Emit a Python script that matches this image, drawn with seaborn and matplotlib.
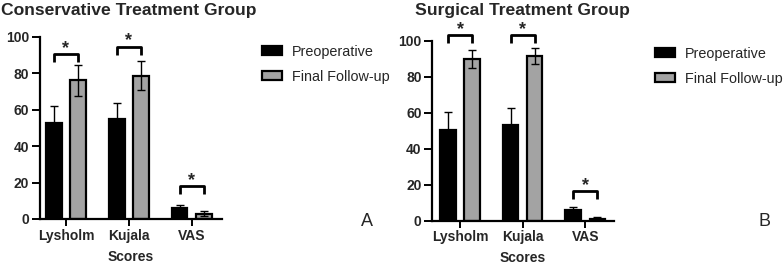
import matplotlib
matplotlib.use("Agg")
import matplotlib.pyplot as plt
import seaborn as sns
import pandas as pd
from matplotlib.patches import Patch

categories = ["Lysholm", "Kujala", "VAS"]
groups = ["Preoperative", "Final Follow-up"]

cons_pre = [52.6, 55.0, 6.1]
cons_pre_sd = [9.2, 8.5, 1.6]
cons_post = [76.0, 78.6, 2.8]
cons_post_sd = [8.5, 7.9, 1.4]
cons_bracket = [90.4, 94.5, 18.0]

surg_pre = [50.2, 53.0, 6.1]
surg_pre_sd = [10.2, 9.6, 1.3]
surg_post = [89.8, 91.4, 0.6]
surg_post_sd = [5.0, 4.3, 1.3]
surg_bracket = [103.0, 103.0, 16.4]

titles = ["Conservative Treatment Group", "Surgical Treatment Group"]
panel_letters = ["A", "B"]
yticks = [0, 20, 40, 60, 80, 100]

colors = ["#000000", "#a3a3a3"]

sns.set_theme(style="ticks")
plt.rcParams["font.family"] = ["Liberation Sans", "DejaVu Sans"]

fig = plt.figure(figsize=(7.84, 2.66), dpi=100)
W, H = 784, 266

def px_axes(x0, y_top, x1, y_bot):
    return fig.add_axes([x0 / W, (H - y_bot) / H, (x1 - x0) / W, (y_bot - y_top) / H])

axA = px_axes(39.5, 36.5, 222, 219)
axB = px_axes(432, 40.5, 614, 220.5)

panels = [
    (axA, cons_pre, cons_pre_sd, cons_post, cons_post_sd, cons_bracket, (-0.42, 2.48)),
    (axB, surg_pre, surg_pre_sd, surg_post, surg_post_sd, surg_bracket, (-0.45, 2.46)),
]

for i, (ax, pre, pre_sd, post, post_sd, br, xl) in enumerate(panels):
    df = pd.DataFrame({
        "Scores": categories * 2,
        "value": pre + post,
        "time": [groups[0]] * 3 + [groups[1]] * 3,
    })
    sns.barplot(data=df, x="Scores", y="value", hue="time", palette=colors,
                errorbar=None, width=0.77, gap=0.36, edgecolor="black",
                linewidth=1.6, ax=ax, legend=False, saturation=1)
    patches = list(ax.patches)[:6]
    centers = [p.get_x() + p.get_width() / 2 for p in patches]
    tops = [p.get_height() for p in patches]
    sds = pre_sd + post_sd
    ax.errorbar(centers, tops, yerr=[[min(s, t) for s, t in zip(sds, tops)], sds],
                fmt="none", ecolor="black", elinewidth=1.0, capsize=3, capthick=1.0)
    for k in range(3):
        xa, xb = centers[k], centers[k + 3]
        y = br[k]
        dy = 4.5
        ax.plot([xa, xa, xb, xb], [y - dy, y, y, y - dy], color="black",
                lw=2.0, clip_on=False, solid_capstyle="butt")
        ax.annotate("*", xy=((xa + xb) / 2, y), xytext=(0, -2), textcoords="offset points",
                    ha="center", va="bottom", fontsize=13, fontweight="bold",
                    annotation_clip=False)
    ax.set_xlim(*xl)
    ax.set_ylim(0, 100)
    ax.set_yticks(yticks)
    ax.set_ylabel("")
    ax.set_xlabel("Scores", fontsize=10, fontweight="bold", labelpad=5)
    for lab in ax.get_xticklabels():
        lab.set_fontweight("bold"); lab.set_fontsize(10)
    for lab in ax.get_yticklabels():
        lab.set_fontweight("bold"); lab.set_fontsize(10)
    sns.despine(ax=ax)
    for sp in ["left", "bottom"]:
        ax.spines[sp].set_linewidth(1.6)
        ax.spines[sp].set_color("black")
    ax.tick_params(axis="x", width=1.4, length=5, color="black", pad=2)
    ax.tick_params(axis="y", width=1.4, length=6, color="black", pad=1.5)

fig.text(1 / W, 1 - 10 / H, titles[0], fontsize=12.6, fontweight="bold", va="center", ha="left")
fig.text(522 / W, 1 - 10 / H, titles[1], fontsize=12.6, fontweight="bold", va="center", ha="center")

handles = [Patch(facecolor=colors[0], edgecolor="black", linewidth=1.6),
           Patch(facecolor=colors[1], edgecolor="black", linewidth=1.6)]
for (x, y) in [(262, 45), (655, 47)]:
    fig.legend(handles, groups, loc="upper left", bbox_to_anchor=(x / W, 1 - y / H),
               frameon=False, fontsize=10.4, handlelength=1.4, handleheight=0.6,
               handletextpad=0.7, labelspacing=0.75, borderaxespad=0, borderpad=0)

fig.text(367 / W, 1 - 222 / H, panel_letters[0], fontsize=13, ha="center", va="center")
fig.text(765 / W, 1 - 222 / H, panel_letters[1], fontsize=13, ha="center", va="center")

fig.savefig("out.png", dpi=100)
